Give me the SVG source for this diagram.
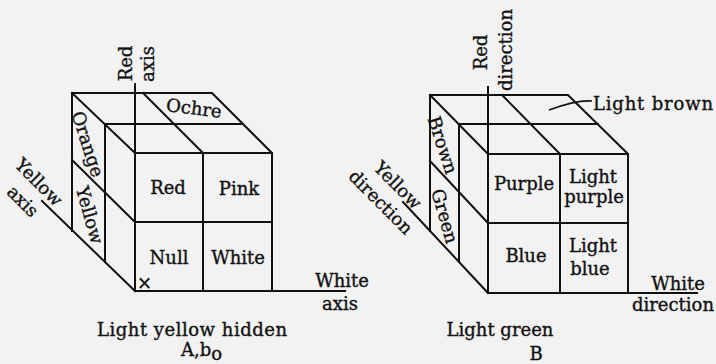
<svg xmlns="http://www.w3.org/2000/svg" width="716" height="364" viewBox="0 0 716 364">
<style>
.ln{stroke:#111;stroke-width:2;fill:none;stroke-linecap:square}
.t{font-family:"DejaVu Serif","Liberation Serif",serif;font-size:18px;fill:#111;stroke:#111;stroke-width:0.35}
.c{text-anchor:middle}
.m{text-anchor:middle;dominant-baseline:central}
</style>
<rect width="716" height="364" fill="#f2f2f2"/>
<g id="connectors">
<path class="ln" d="M135,84 V291 M135,291 H345 M42,201 L135,291"/>
<path class="ln" d="M488,87 V293 M488,293 H697 M403,202 L488,293"/>
<path d="M592,101 C580,100 568,103 549,110" stroke="#111" stroke-width="1.6" fill="none"/>
</g>
<g id="cubeA">
<path class="ln" d="M72,93 H212 L272,153 M143,93 L203,153 M72,93 L135,153 M105,124 H242 M135,153 H272 M135,222 H272 M203,153 V291 M272,153 V291 M72,93 V231 M105,124 V262 M72,160 L135,222"/>
<text class="t m" transform="translate(194,108) rotate(7)">Ochre</text>
<text class="t m" transform="translate(88,144) rotate(72)">Orange</text>
<text class="t m" transform="translate(90,215) rotate(74)">Yellow</text>
<text class="t c" x="168" y="194">Red</text>
<text class="t c" x="239" y="195">Pink</text>
<text class="t c" x="169" y="264">Null</text>
<text class="t c" x="238" y="264">White</text>
<text class="t" x="137" y="289" font-size="11">×</text>
</g>
<g id="cubeB">
<path class="ln" d="M430,95 H568 L628,154 M502,95 L560,154 M430,95 L488,154 M459,124 H598 M488,154 H628 M488,223 H628 M560,154 V293 M628,154 V293 M430,95 V231 M459,124 V262 M430,161 L488,223"/>
<text class="t m" transform="translate(443,145) rotate(72)">Brown</text>
<text class="t m" transform="translate(445,216) rotate(74)">Green</text>
<text class="t c" x="524" y="190">Purple</text>
<text class="t c" x="593" y="183">Light</text>
<text class="t c" x="594" y="203">purple</text>
<text class="t c" x="526" y="262">Blue</text>
<text class="t c" x="593" y="252">Light</text>
<text class="t c" x="590" y="275">blue</text>
</g>
<g id="labelsA">
<text class="t m" transform="translate(125,63.5) rotate(-90)">Red</text>
<text class="t m" transform="translate(147,64) rotate(-90)">axis</text>
<text class="t m" transform="translate(39,182) rotate(45)">Yellow</text>
<text class="t m" transform="translate(23,201) rotate(45)">axis</text>
<text class="t c" x="342" y="287">White</text>
<text class="t c" x="340" y="310">axis</text>
<text class="t c" x="192" y="336" textLength="190">Light yellow hidden</text>
<text class="t" x="181" y="356" font-size="15">A,b<tspan dy="4">o</tspan></text>
</g>
<g id="labelsB">
<text class="t m" transform="translate(480.5,52.5) rotate(-90)">Red</text>
<text class="t m" transform="translate(505,50) rotate(-90)">direction</text>
<text class="t m" transform="translate(398,185) rotate(45)">Yellow</text>
<text class="t m" transform="translate(381,202) rotate(45)">direction</text>
<text class="t" x="593" y="110" textLength="120">Light brown</text>
<text class="t c" x="678" y="290">White</text>
<text class="t c" x="673" y="311">direction</text>
<text class="t c" x="500" y="336">Light green</text>
<text class="t c" x="536" y="360" font-size="20">B</text>
</g>
</svg>
